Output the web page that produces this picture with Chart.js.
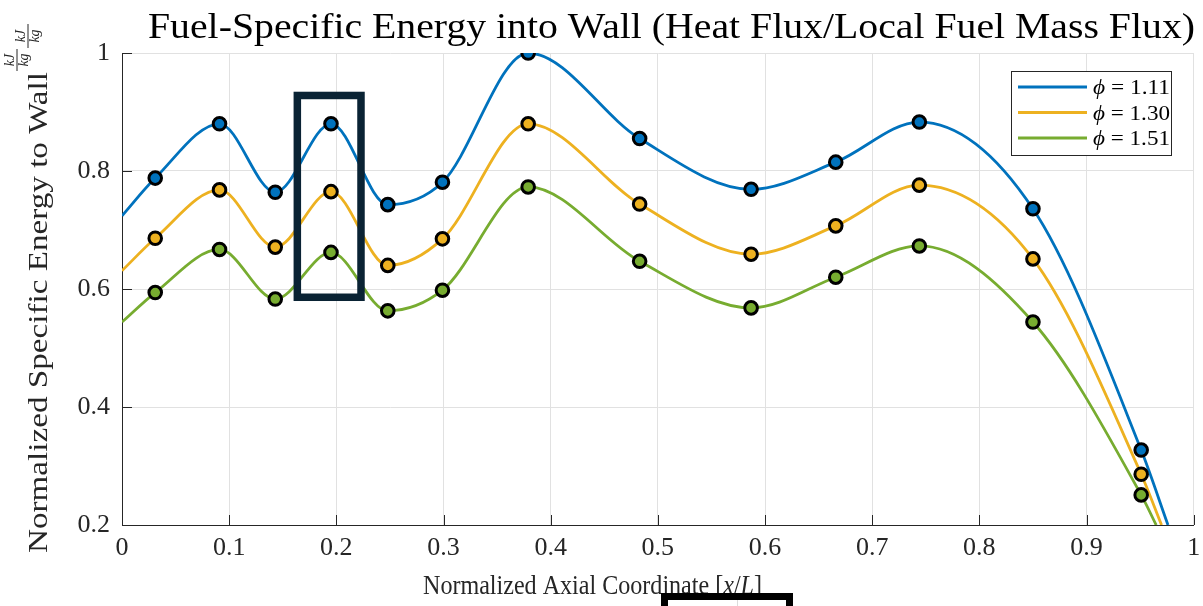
<!DOCTYPE html>
<html><head><meta charset="utf-8">
<script src="https://cdn.jsdelivr.net/npm/chart.js@4/dist/chart.umd.min.js"></script>
<style>html,body{margin:0;padding:0;background:#fff;overflow:hidden}canvas{display:block}</style>
</head><body>
<canvas id="c" width="1203" height="606"></canvas>
<script>
// ---- data ----
const xPos   = [0.031, 0.091, 0.143, 0.195, 0.248, 0.299, 0.379, 0.483, 0.587, 0.666, 0.744, 0.850, 0.951];
const phi111 = [0.788, 0.880, 0.764, 0.880, 0.743, 0.781, 1.000, 0.855, 0.769, 0.815, 0.883, 0.736, 0.327];
const phi130 = [0.686, 0.768, 0.671, 0.765, 0.640, 0.685, 0.880, 0.744, 0.659, 0.707, 0.776, 0.651, 0.286];
const phi151 = [0.594, 0.667, 0.583, 0.662, 0.563, 0.598, 0.773, 0.647, 0.568, 0.620, 0.673, 0.544, 0.251];
const curveStartY = [0.724, 0.631, 0.544];   // fitted curve value at x = 0
const curveEndX   = [0.976, 0.970, 0.965];   // where fitted curve reaches y = 0.2
const seriesNames = ['1.11', '1.30', '1.51'];
const xTickStep = 0.1;
const yTickStep = 0.2;
const highlightX = [0.1636, 0.223];
const highlightY = [0.586, 0.928];

const colors = ['#0072BD', '#EDB120', '#77AC30'];
const SERIF = '"Liberation Serif", "DejaVu Serif", serif';
const INK = '#262626';
const GRID = '#e1e1e1';
const allSeries = [phi111, phi130, phi151];

function fmt(v){ return String(Math.round(v * 10) / 10); }

const markerSets = allSeries.map((vals, i) => ({
  label: 'm' + i,
  data: xPos.map((x, j) => ({x: x, y: vals[j]})),
  showLine: false,
  pointRadius: 6.3,
  pointBorderWidth: 3,
  pointBackgroundColor: colors[i],
  pointBorderColor: '#000',
  order: 0
}));
const lineSets = allSeries.map((vals, i) => ({
  label: 'phi = ' + seriesNames[i],
  data: [{x: 0, y: curveStartY[i]}]
        .concat(xPos.map((x, j) => ({x: x, y: vals[j]})))
        .concat([{x: curveEndX[i], y: 0.2}]),
  borderColor: colors[i],
  borderWidth: 2.8,
  pointRadius: 0,
  cubicInterpolationMode: 'monotone',
  fill: false,
  order: 1
}));

// ---- text helpers ----
function fontOf(s, size){ return (s.it ? 'italic ' : '') + size + 'px ' + SERIF; }
function segsWidth(ctx, segs, size){
  let w = 0;
  segs.forEach(s => { ctx.font = fontOf(s, size); w += ctx.measureText(s.t).width; });
  return w;
}
function drawSegs(ctx, segs, x, y, size, targetW, color){
  const w = segsWidth(ctx, segs, size);
  const k = targetW ? targetW / w : 1;
  ctx.save();
  ctx.translate(x, y);
  ctx.scale(k, 1);
  ctx.fillStyle = color || INK;
  ctx.textBaseline = 'alphabetic';
  ctx.textAlign = 'left';
  let cx = 0;
  segs.forEach(s => { ctx.font = fontOf(s, size); ctx.fillText(s.t, cx, 0); cx += ctx.measureText(s.t).width; });
  ctx.restore();
}

const decorPlugin = {
  id: 'decor',
  beforeDatasetsDraw(chart){
    const ctx = chart.ctx, xs = chart.scales.x, ys = chart.scales.y, a = chart.chartArea;
    ctx.save();
    ctx.strokeStyle = INK; ctx.lineWidth = 1;
    ctx.beginPath();
    xs.ticks.forEach(t => { const p = Math.round(xs.getPixelForValue(t.value)) + 0.5; ctx.moveTo(p, a.bottom); ctx.lineTo(p, a.bottom - 10); });
    ys.ticks.forEach(t => { const p = Math.round(ys.getPixelForValue(t.value)) + 0.5; ctx.moveTo(a.left, p); ctx.lineTo(a.left + 10, p); });
    ctx.stroke();
    ctx.restore();
  },
  afterDatasetsDraw(chart){
    const ctx = chart.ctx, xs = chart.scales.x, ys = chart.scales.y;
    // highlight rectangle
    ctx.save();
    ctx.strokeStyle = '#0a2334';
    ctx.lineWidth = 7.5;
    const x1 = xs.getPixelForValue(highlightX[0]), x2 = xs.getPixelForValue(highlightX[1]);
    const y1 = ys.getPixelForValue(highlightY[1]), y2 = ys.getPixelForValue(highlightY[0]);
    ctx.strokeRect(x1, y1, x2 - x1, y2 - y1);
    ctx.restore();

    // legend
    ctx.save();
    const lx = 1011.5, ly = 71.5, lw = 160, lh = 84;
    ctx.fillStyle = '#fff';
    ctx.fillRect(lx, ly, lw, lh);
    ctx.strokeStyle = INK; ctx.lineWidth = 1;
    ctx.strokeRect(lx, ly, lw, lh);
    const rows = [87, 112.5, 138];
    seriesNames.forEach((n, i) => {
      ctx.strokeStyle = colors[i]; ctx.lineWidth = 3;
      ctx.beginPath(); ctx.moveTo(1018, rows[i]); ctx.lineTo(1087, rows[i]); ctx.stroke();
      drawSegs(ctx, [{t:'\u03D5', it:true}, {t:' = '}, {t:n}], 1093, rows[i] + 7, 20, 77, '#000');
    });
    ctx.restore();
  },
  afterDraw(chart){
    const ctx = chart.ctx;
    // title
    drawSegs(ctx, [{t:'Fuel-Specific Energy into Wall (Heat Flux/Local Fuel Mass Flux)'}], 148, 38, 35, 1047, '#000');
    // x title
    drawSegs(ctx, [{t:'Normalized Axial Coordinate ['}, {t:'x', it:true}, {t:'/'}, {t:'L', it:true}, {t:']'}], 423, 594, 28, 339, INK);
    // y title (rotated)
    ctx.save();
    ctx.translate(47, 553);
    ctx.rotate(-Math.PI / 2);
    drawSegs(ctx, [{t:'Normalized Specific Energy to Wall'}], 0, 0, 27, 481, INK);
    // fractions after "Wall"
    ctx.fillStyle = INK;
    ctx.strokeStyle = INK;
    ctx.lineWidth = 1;
    ctx.textAlign = 'center';
    ctx.font = 'italic 14px ' + SERIF;
    // first fraction (raised)
    let fx = 493;
    ctx.beginPath(); ctx.moveTo(fx - 11, -30); ctx.lineTo(fx + 11, -30); ctx.stroke();
    ctx.fillText('kJ', fx, -33);
    ctx.fillText('kg', fx, -19);
    // second fraction
    fx = 517;
    ctx.beginPath(); ctx.moveTo(fx - 12, -19); ctx.lineTo(fx + 12, -19); ctx.stroke();
    ctx.fillText('kJ', fx, -22);
    ctx.fillText('kg', fx, -8);
    ctx.restore();

    // black box at bottom
    ctx.save();
    ctx.fillStyle = '#fff';
    ctx.fillRect(661, 593, 132, 20);
    ctx.strokeStyle = '#dcdcdc'; ctx.lineWidth = 1;
    ctx.beginPath(); ctx.moveTo(737.5, 598); ctx.lineTo(737.5, 606); ctx.stroke();
    ctx.strokeStyle = '#000'; ctx.lineWidth = 7;
    ctx.strokeRect(664.5, 596.5, 125, 30);
    ctx.restore();
  }
};

new Chart(document.getElementById('c'), {
  type: 'line',
  data: { datasets: markerSets.concat(lineSets) },
  options: {
    responsive: false,
    animation: false,
    devicePixelRatio: 1,
    layout: { padding: { left: 0, top: 53, right: 5, bottom: 0 } },
    plugins: { legend: { display: false }, tooltip: { enabled: false }, title: { display: false } },
    scales: {
      x: {
        type: 'linear', min: 0, max: 1, position: 'bottom',
        grid: { color: GRID, lineWidth: 1, drawTicks: false },
        border: { display: true, color: INK, width: 1 },
        ticks: { stepSize: xTickStep, color: INK, font: { family: SERIF, size: 26 }, padding: 8, maxRotation: 0, autoSkip: false, callback: v => fmt(v) },
        afterFit: s => { s.height = 81; s.paddingLeft = 0; s.paddingRight = 0; }
      },
      y: {
        type: 'linear', min: 0.2, max: 1,
        grid: { color: GRID, lineWidth: 1, drawTicks: false },
        border: { display: true, color: INK, width: 1 },
        ticks: { stepSize: yTickStep, color: INK, font: { family: SERIF, size: 26 }, padding: 12, callback: v => fmt(v) },
        afterFit: s => { s.width = 122; s.paddingTop = 0; s.paddingBottom = 0; }
      }
    }
  },
  plugins: [decorPlugin]
});
</script>
</body></html>
